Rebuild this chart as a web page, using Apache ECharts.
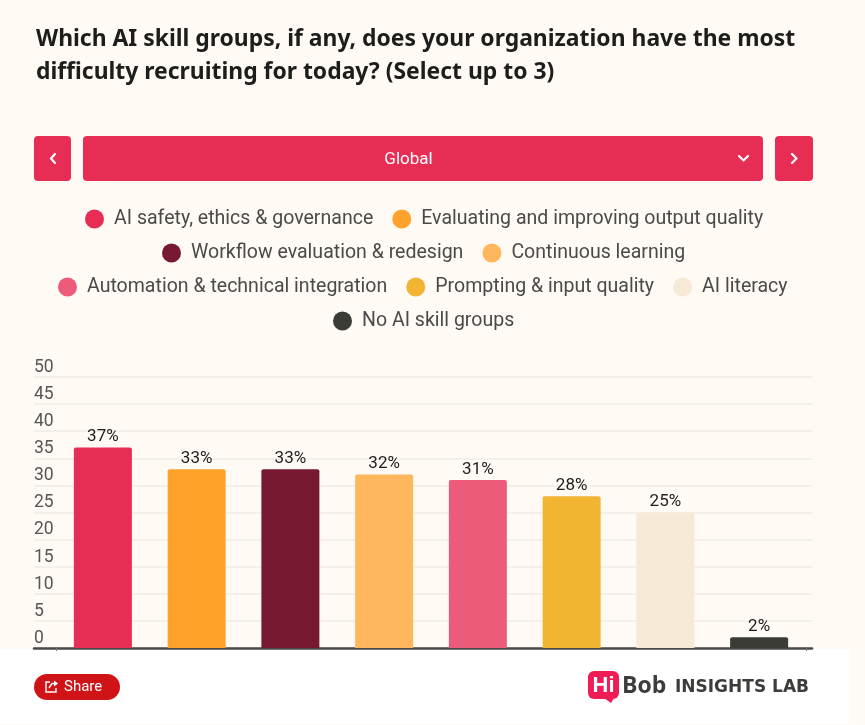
<!DOCTYPE html>
<html><head><meta charset="utf-8">
<style>html,body{margin:0;padding:0;background:#FFFAF4}#c{width:865px;height:725px}</style>
<script src="https://cdn.jsdelivr.net/npm/echarts@6/dist/echarts.min.js"></script>
</head><body><div id="c"></div>
<script>
var titleLines = 'Which AI skill groups, if any, does your organization have the most\ndifficulty recruiting for today? (Select up to 3)';
var categories = ['AI safety, ethics & governance','Evaluating and improving output quality','Workflow evaluation & redesign','Continuous learning','Automation & technical integration','Prompting & input quality','AI literacy','No AI skill groups'];
var values = [37,33,33,32,31,28,25,2];
var colors = ['#E72D53','#FFA22B','#771A30','#FFB75E','#EC5C7A','#F2B433','#F6EAD6','#3C3C36'];
var legendRows = [[0,1],[2,3],[4,5,6],[7]];
var legendLefts = [85,162,58,333];
var legendTops = [209,243,277,311];
var RED = '#E72D53';
function roundBtn(x,y,w,h){return {type:'rect',shape:{x:x,y:y,width:w,height:h,r:4},style:{fill:RED},silent:true};}
function chev(points){return {type:'polyline',shape:{points:points},style:{stroke:'#fff',lineWidth:2.2,fill:null,lineCap:'round',lineJoin:'round'},silent:true};}
var chart = echarts.init(document.getElementById('c'),null,{renderer:'canvas'});
chart.setOption({
  animation:false,
  backgroundColor:'#FFFAF4',
  textStyle:{fontFamily:'Roboto'},
  title:{text:titleLines,left:36,top:23,padding:0,textStyle:{fontFamily:'Noto Sans',fontWeight:'bold',fontSize:22.9,lineHeight:33,color:'#1d1d1b'}},
  legend:legendRows.map(function(r,i){return {
    left:legendLefts[i],top:legendTops[i],orient:'horizontal',icon:'circle',itemWidth:19,itemHeight:19,itemGap:19,padding:0,
    data:r.map(function(k){return categories[k];}),selectedMode:false,
    textStyle:{fontFamily:'Roboto',fontSize:19.55,color:'#4a4a48',padding:[0,0,0,5]}
  };}),
  grid:[
    {left:34,top:377,width:778,height:271},
    {left:56,top:377,width:750,height:271}
  ],
  xAxis:[
    {gridIndex:0,type:'category',data:[''],axisLabel:{show:false},axisTick:{show:false},axisLine:{show:true,lineStyle:{color:'#4a4a48',width:2.5}}},
    {gridIndex:1,type:'category',data:categories,axisLabel:{show:false},axisLine:{show:false},
     axisTick:{show:true,length:3,interval:function(i){return i===0;},lineStyle:{color:'#777'}}}
  ],
  yAxis:[
    {gridIndex:0,type:'value',min:0,max:50,interval:5,axisLine:{show:false},axisTick:{show:false},
     splitLine:{lineStyle:{color:'#F1EDE6',width:1.5}},
     axisLabel:{inside:true,align:'left',verticalAlign:'bottom',margin:0,fontFamily:'Roboto',fontSize:17.5,color:'#555',lineHeight:19}},
    {gridIndex:1,type:'value',min:0,max:50,interval:5,show:false}
  ],
  series:categories.map(function(name,i){
    return {name:name,type:'bar',xAxisIndex:1,yAxisIndex:1,stack:'all',barWidth:58,z:3,
      data:values.map(function(v,k){return k===i?v:null;}),
      itemStyle:{color:colors[i],borderRadius:[2,2,0,0]},
      label:{show:true,position:'top',distance:2,formatter:'{c}%',fontFamily:'Roboto',fontSize:17,color:'#1d1d1b'}};
  }),
  graphic:[
    {type:'rect',z:-1,shape:{x:0,y:649,width:849,height:75},style:{fill:'#fff'},silent:true},
    roundBtn(34,136,37,45),roundBtn(83,136,680,45),roundBtn(775,136,38,45),
    chev([[55,154],[51,158.5],[55,163]]),
    chev([[792,154],[796.5,158.5],[792,163]]),
    chev([[739,156],[743.5,160.5],[748,156]]),
    {type:'text',style:{x:408.5,y:159.5,text:'Global',fill:'#fff',font:'17px Roboto',align:'center',verticalAlign:'middle'},silent:true},
    {type:'rect',shape:{x:34,y:674,width:86,height:26,r:13},style:{fill:'#D01317'},silent:true},
    {type:'polyline',shape:{points:[[50,682],[46,682],[46,692],[56,692],[56,688]]},style:{stroke:'#fff',lineWidth:1.4,fill:null},silent:true},
    {type:'polyline',shape:{points:[[49,688],[52,683.5],[57,683.5]]},style:{stroke:'#fff',lineWidth:1.4,fill:null},silent:true},
    {type:'polygon',shape:{points:[[54,680.5],[58,683.5],[54,686.5]]},style:{fill:'#fff'},silent:true},
    {type:'text',style:{x:64,y:687.5,text:'Share',fill:'#fff',font:'15px Roboto',verticalAlign:'middle'},silent:true},
    {type:'rect',shape:{x:588,y:671,width:31,height:28,r:6},style:{fill:'#EF1C56'},silent:true},
    {type:'polygon',shape:{points:[[604,698],[614,698],[611,703]]},style:{fill:'#EF1C56'},silent:true},
    {type:'text',style:{x:603.5,y:686,text:'Hi',fill:'#fff',font:'bold 22px "Liberation Sans"',align:'center',verticalAlign:'middle'},silent:true},
    {type:'text',style:{x:622,y:686,text:'Bob',fill:'#3c3c3a',font:'bold 23px "Open Sans"',verticalAlign:'middle'},silent:true},
    {type:'text',style:{x:675,y:688,text:'INSIGHTS LAB',fill:'#3c3c3a',font:'bold 17px "DejaVu Sans"',verticalAlign:'middle'},silent:true}
  ]
});
</script></body></html>
